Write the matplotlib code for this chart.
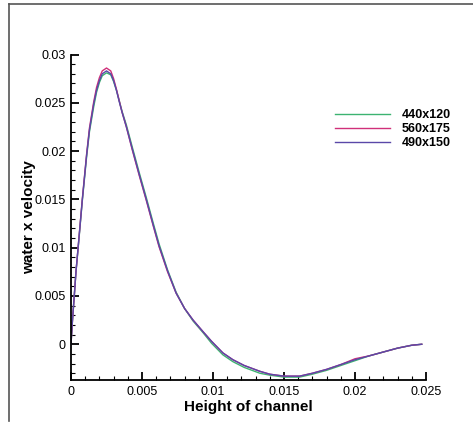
import matplotlib
matplotlib.use("Agg")
import matplotlib.pyplot as plt
from matplotlib.lines import Line2D
from matplotlib.ticker import AutoMinorLocator

plt.rcParams['font.family'] = ['Liberation Sans', 'DejaVu Sans']

# Height of channel (x positions)
height = [0.0, 0.0001, 0.00023, 0.00035, 0.0005, 0.0008, 0.0011, 0.0013,
          0.0016, 0.0018, 0.002, 0.0022, 0.0025, 0.0028, 0.003, 0.0032,
          0.0034, 0.0036, 0.0039, 0.0043, 0.0048, 0.0053, 0.0058, 0.0062,
          0.0068, 0.0074, 0.008, 0.0086, 0.0093, 0.0099, 0.0107, 0.0114,
          0.0122, 0.0133, 0.014, 0.015, 0.0161, 0.017, 0.018, 0.019,
          0.020, 0.021, 0.022, 0.023, 0.024, 0.0247]

# water x velocity for each mesh
vel_490x150 = [0.0, 0.0024, 0.005, 0.0075, 0.0100, 0.0150, 0.0196, 0.0222,
               0.0249, 0.0263, 0.0273, 0.0280, 0.0283, 0.0280, 0.0273, 0.0263,
               0.0251, 0.0240, 0.0225, 0.0203, 0.0176, 0.0150, 0.0123, 0.0102,
               0.0076, 0.0053, 0.0037, 0.0025, 0.0013, 0.0003, -0.0009, -0.0016,
               -0.0022, -0.0028, -0.0031, -0.0033, -0.0033, -0.0030, -0.0026, -0.0021,
               -0.0016, -0.0012, -0.0008, -0.0004, -0.0001, 0.0]
vel_440x120 = [0.0, 0.0024, 0.005, 0.0075, 0.0099, 0.0149, 0.0194, 0.0220,
               0.0246, 0.0261, 0.0271, 0.0278, 0.0281, 0.0279, 0.0272, 0.0263,
               0.0252, 0.0241, 0.0227, 0.0205, 0.0178, 0.0152, 0.0125, 0.0104,
               0.0077, 0.0054, 0.0037, 0.0024, 0.0012, 0.0001, -0.0011, -0.0018,
               -0.0024, -0.0030, -0.0032, -0.0034, -0.0034, -0.0031, -0.0027, -0.0022,
               -0.0017, -0.0012, -0.0008, -0.0004, -0.0001, 0.0]
vel_560x175 = [0.0, 0.0024, 0.005, 0.0075, 0.0100, 0.0151, 0.0197, 0.0224,
               0.0251, 0.0266, 0.0276, 0.0283, 0.0286, 0.0283, 0.0275, 0.0264,
               0.0252, 0.0240, 0.0225, 0.0202, 0.0175, 0.0149, 0.0122, 0.0101,
               0.0075, 0.0053, 0.0037, 0.0025, 0.0013, 0.0003, -0.0009, -0.0016,
               -0.0022, -0.0028, -0.0031, -0.0033, -0.0033, -0.0030, -0.0026, -0.0021,
               -0.0015, -0.0012, -0.0008, -0.0004, -0.0001, 0.0]

labels = ['440x120', '560x175', '490x150']
colors = ['#3cb371', '#d0307a', '#5a48a8']

fig = plt.figure(figsize=(4.73, 4.25), dpi=100)
ax = fig.add_axes([71/473, 1 - 380/425, (426 - 71)/473, (380 - 54.5)/425])

for vals, lab, col in zip([vel_440x120, vel_560x175, vel_490x150], labels, colors):
    ax.plot(height, vals, color=col, lw=1.0, label=lab)

ax.set_xlim(0, 0.025)
ax.set_ylim(-0.0037, 0.03)
ax.xaxis.set_minor_locator(AutoMinorLocator(5))
ax.yaxis.set_minor_locator(AutoMinorLocator(5))
ax.set_xticks([0, 0.005, 0.01, 0.015, 0.02, 0.025])
ax.set_xticklabels(['0', '0.005', '0.01', '0.015', '0.02', '0.025'])
ax.set_yticks([0, 0.005, 0.01, 0.015, 0.02, 0.025, 0.03])
ax.set_yticklabels(['0', '0.005', '0.01', '0.015', '0.02', '0.025', '0.03'])

ax.spines['top'].set_visible(False)
ax.spines['right'].set_visible(False)
for s in ['left', 'bottom']:
    ax.spines[s].set_linewidth(1.3)
ax.tick_params(which='major', direction='in', length=6, width=1.3, labelsize=9, pad=4)
ax.tick_params(which='minor', direction='in', length=3, width=0.8)

ax.set_xlabel('Height of channel', fontsize=11, fontweight='bold', labelpad=2)
ax.set_ylabel('water x velocity', fontsize=11, fontweight='bold')
ax.yaxis.set_label_coords((36 - 71) / 355, 0.5)

leg = ax.legend(loc='upper left', bbox_to_anchor=(324/473, 1 - 98/425),
                bbox_transform=fig.transFigure, frameon=False,
                handlelength=4.4, handletextpad=0.9, labelspacing=0.15,
                prop={'size': 9, 'weight': 'bold'})

# outer frame lines
fig.add_artist(Line2D([9/473, 1], [1 - 4/425, 1 - 4/425], color='#555555', lw=1.2,
                      transform=fig.transFigure))
fig.add_artist(Line2D([9/473, 9/473], [1 - 4/425, 0.01], color='#555555', lw=1.2,
                      transform=fig.transFigure))

fig.savefig('out.png', dpi=100)
